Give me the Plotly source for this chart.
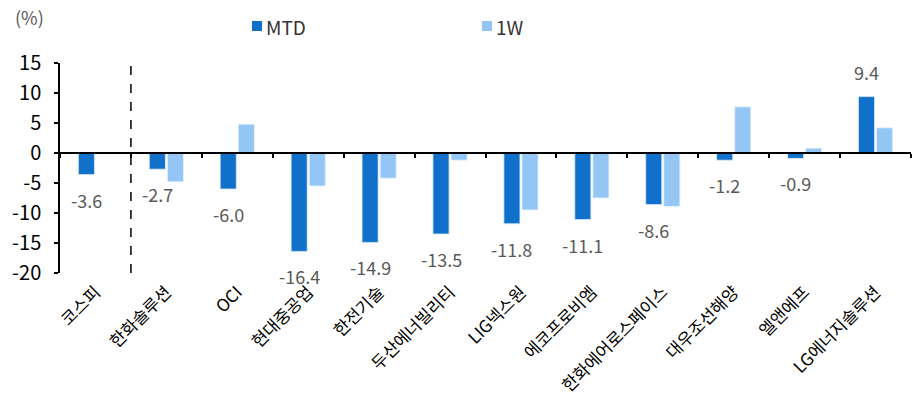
import plotly.graph_objects as go

categories = ["코스피", "한화솔루션", "OCI", "현대중공업", "한전기술", "두산에너빌리티",
              "LIG넥스원", "에코프로비엠", "한화에어로스페이스", "대우조선해양", "엘앤에프", "LG에너지솔루션"]
mtd = [-3.6, -2.7, -6.0, -16.4, -14.9, -13.5, -11.8, -11.1, -8.6, -1.2, -0.9, 9.4]
w1 = [0.0, -4.8, 4.8, -5.5, -4.2, -1.2, -9.5, -7.5, -8.9, 7.7, 0.8, 4.2]
y_ticks = [-20, -15, -10, -5, 0, 5, 10, 15]
series_names = ["MTD", "1W"]

FONT = "Noto Sans CJK KR, Malgun Gothic, sans-serif"
C_MTD = "#1170C9"
C_1W = "#93C6F5"
colors = [C_MTD, C_1W]
BARGAP = 0.49
idx = list(range(len(categories)))
ymin, ymax = -20, 15

W, H = 912, 397
ML, MR, MT, MB = 60, 1, 63, 124
PW, PH = W - ML - MR, H - MT - MB


def px_x(px):
    return (px - ML) / PW


def px_y(py):
    return 1 + (MT - py) / PH


fig = go.Figure()
fig.add_trace(go.Bar(x=idx, y=mtd, name=series_names[0], showlegend=False,
                     marker=dict(color=C_MTD, line=dict(color="#DDEBF7", width=0.8))))
fig.add_trace(go.Bar(x=idx, y=w1, name=series_names[1], showlegend=False,
                     marker=dict(color=C_1W, line=dict(color="#E8F2FC", width=0.8))))
# helper trace so the zero-line axis renders
fig.add_trace(go.Scatter(x=[0], y=[0], xaxis="x2", mode="markers", marker=dict(opacity=0),
                         showlegend=False, hoverinfo="skip"))

off = (1 - BARGAP) / 4
for i, v in enumerate(mtd):
    fig.add_annotation(x=i - off, y=v, text=f"{v:.1f}", showarrow=False,
                       yshift=(-25 if v < 0 else 25), font=dict(family=FONT, size=18, color="#595959"))

# separator between index and stocks
fig.add_shape(type="line", x0=0.5, x1=0.5, y0=0, y1=1, xref="x", yref="paper",
              line=dict(color="black", width=1.5, dash="dash"))

fig.add_annotation(xref="paper", yref="paper", x=px_x(13), y=px_y(17), xanchor="left", yanchor="middle",
                   text="(%)", showarrow=False, font=dict(family=FONT, size=18, color="#595959"))

# legend (manual, to match the compact symbol-text spacing)
legend_x = [252, 482]
for name, col, lx in zip(series_names, colors, legend_x):
    fig.add_shape(type="rect", xref="paper", yref="paper",
                  x0=px_x(lx), x1=px_x(lx + 10), y0=px_y(31), y1=px_y(21),
                  fillcolor=col, line=dict(width=0))
    fig.add_annotation(xref="paper", yref="paper", x=px_x(lx + 12), y=px_y(26.5),
                       xanchor="left", yanchor="middle", text=name, showarrow=False,
                       font=dict(family=FONT, size=19, color="#333"))

fig.update_layout(
    width=W, height=H,
    margin=dict(l=ML, r=MR, t=MT, b=MB),
    paper_bgcolor="white", plot_bgcolor="white",
    barmode="group", bargap=BARGAP, bargroupgap=0.11,
    font=dict(family=FONT, size=17, color="black"),
    xaxis=dict(range=[-0.5, len(categories) - 0.5], tickvals=idx, ticktext=categories,
               tickangle=-45, showline=False, ticks="", showgrid=False, zeroline=False,
               ticklabelstandoff=5,
               tickfont=dict(family=FONT, size=17, color="black")),
    xaxis2=dict(overlaying="x", anchor="free", position=(0 - ymin) / (ymax - ymin),
                range=[-0.5, len(categories) - 0.5],
                tickvals=[i - 0.5 for i in range(len(categories) + 1)],
                showticklabels=False, ticks="outside", ticklen=4, tickwidth=1.5, tickcolor="black",
                showline=True, linecolor="black", linewidth=1.5, showgrid=False, zeroline=False),
    yaxis=dict(range=[ymin, ymax], tickvals=y_ticks, ticktext=[str(t) for t in y_ticks],
               showline=True, linecolor="black", linewidth=1.5,
               ticks="outside", ticklen=4, tickwidth=1.5, tickcolor="black", showgrid=False,
               zeroline=False, ticklabelstandoff=9,
               tickfont=dict(family=FONT, size=20, color="black")),
    showlegend=False,
)

fig.write_html("out.html")
